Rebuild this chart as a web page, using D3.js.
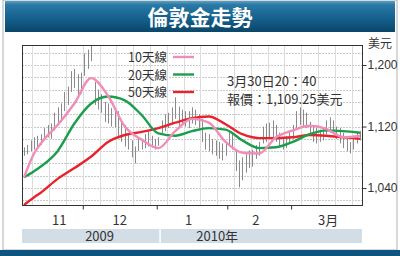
<!DOCTYPE html>
<html>
<head>
<meta charset="utf-8">
<script src="https://cdn.jsdelivr.net/npm/d3@7"></script>
<style>
  body { margin: 0; background: #fff; }
  svg { display: block; }
  text { font-family: "Liberation Sans", Arial, "Noto Sans CJK TC", sans-serif; fill: #333; }
  .cjk { font-family: "Noto Sans CJK TC", "Noto Sans CJK SC", sans-serif; }
</style>
</head>
<body>
<div class="render"></div>
<script>
// daily high / low, one per trading day (Nov 2009 - 30 Mar 2010)
var lows = [1082,1084,1088,1090,1093,1096,1102,1106,1104,1115,1122,1126,1140,1148,1165,1170,1160,1163,
  1186,1195,1205,1148,1142,1138,1126,1124,1120,1119,1108,1100,1094,1090,1080,1072,1088,1090,1092,1094,1093,1090,
  1095,1110,1114,1118,1125,1130,1120,1122,1120,1118,1124,1122,1115,1100,1090,1088,1084,1082,1078,1076,1082,
  1095,1090,1062,1041,1050,1060,1066,1068,1078,1082,1098,1100,1104,1103,1100,1094,1090,1092,1098,
  1104,1118,1122,1120,1118,1108,1100,1098,1100,1102,1110,1112,1110,1104,1098,1092,1088,1085,1090,1098,1102];
var highs = [1093,1096,1102,1106,1108,1110,1118,1122,1124,1138,1145,1150,1165,1172,1192,1195,1188,1190,
  1215,1220,1226,1178,1168,1162,1152,1150,1144,1142,1140,1128,1122,1110,1102,1094,1106,1104,1110,1114,1108,1104,
  1106,1128,1136,1138,1145,1158,1146,1142,1140,1140,1145,1142,1136,1130,1112,1110,1104,1102,1100,1098,1100,
  1115,1112,1090,1076,1080,1085,1089,1090,1096,1100,1120,1124,1125,1128,1122,1112,1106,1108,1114,
  1122,1140,1145,1142,1138,1126,1122,1118,1116,1118,1128,1132,1128,1120,1118,1112,1106,1100,1108,1112,1114];

// moving averages, sampled every 5 trading days
var maDays = [0,3,5,10,15,20,25,30,35,40,45,50,55,60,65,70,75,80,85,90,95,100];
var ma10 = [1054,1085,1098,1122,1150,1183,1160,1120,1103,1092,1114,1130,1125,1100,1086,1085,1106,1115,1121,1117,1106,1108];
var ma20 = [1054,1062,1068,1088,1124,1150,1159,1154,1135,1111,1108,1114,1118,1116,1102,1092,1093,1100,1110,1115,1114,1112];
var ma50 = [1018,1028,1034,1052,1066,1081,1100,1109,1113,1118,1125,1131,1133,1123,1110,1105,1105,1106,1109,1108,1106,1104];

var monthStarts = [17.5, 39.5, 60.5, 79.5];
var monthLabels = ['11', '12', '1', '2', '3月'];
var monthLabelDays = [10.5, 28.5, 49, 69, 90.5];
var yearLabels = ['2009', '2010年'];
var yearLabelDays = [22.5, 57.5];
var yearBreak = 40.5;
var yTicks = [1040, 1120, 1200];

var legendNames = ['10天線', '20天線', '50天線'];
var colors = ['#f28cb8', '#1a9e4c', '#e8232b'];

function draw() {
  var w = 400, h = 256;
  var left = 22, right = 362, top = 45, bottom = 205;

  var svg = d3.select('.render').append('svg').attr('width', w).attr('height', h);

  // title banner
  var grad = svg.append('defs').append('linearGradient').attr('id', 'ban')
    .attr('x1', 0).attr('y1', 0).attr('x2', 0).attr('y2', 1);
  grad.append('stop').attr('offset', '0%').attr('stop-color', '#5d9fc4');
  grad.append('stop').attr('offset', '12%').attr('stop-color', '#2a79a6');
  grad.append('stop').attr('offset', '60%').attr('stop-color', '#135e8b');
  grad.append('stop').attr('offset', '100%').attr('stop-color', '#0a4668');

  svg.append('rect').attr('x', 3).attr('y', 0).attr('width', 394).attr('height', 250)
    .attr('fill', 'none').attr('stroke', '#b0b0b0');
  svg.append('rect').attr('x', 5).attr('y', 1).attr('width', 390).attr('height', 31).attr('fill', 'url(#ban)');
  svg.append('text').attr('class', 'cjk').text('倫敦金走勢').attr('x', 200).attr('y', 25)
    .attr('text-anchor', 'middle').style('font-size', '21px').style('font-weight', 'bold').style('fill', '#fff');
  svg.append('rect').attr('x', 0).attr('y', 250).attr('width', w).attr('height', 6).attr('fill', '#0d5580');

  var x = d3.scaleLinear().domain([0, 100]).range([24, 360]);
  var y = d3.scaleLinear().domain([1018, 1226]).range([bottom, top]);

  // grid
  var g = svg.append('g');
  g.selectAll('line.hg').data(d3.range(1024, 1226, 16)).enter().append('line')
    .attr('x1', left).attr('x2', right)
    .attr('y1', function (d) { return Math.round(y(d)) + 0.5; })
    .attr('y2', function (d) { return Math.round(y(d)) + 0.5; })
    .attr('stroke', '#c8c8c8').attr('stroke-dasharray', '2,1');
  g.selectAll('line.vg').data(d3.range(2.5, 100, 5)).enter().append('line')
    .attr('y1', top).attr('y2', bottom)
    .attr('x1', function (d) { return Math.round(x(d)) + 0.5; })
    .attr('x2', function (d) { return Math.round(x(d)) + 0.5; })
    .attr('stroke', '#dcdcdc');

  // price bars
  svg.append('g').selectAll('line').data(lows).enter().append('line')
    .attr('x1', function (d, i) { return Math.round(x(i)) + 0.5; })
    .attr('x2', function (d, i) { return Math.round(x(i)) + 0.5; })
    .attr('y1', function (d) { return y(d); })
    .attr('y2', function (d, i) { return y(highs[i]); })
    .attr('stroke', '#8a8a8a').attr('stroke-width', 1);

  // moving averages
  var series = [ma50, ma20, ma10];
  var cols = [colors[2], colors[1], colors[0]];
  var line = d3.line().x(function (d, i) { return x(maDays[i]); }).y(function (d) { return y(d); })
    .curve(d3.curveMonotoneX);
  series.forEach(function (s, k) {
    svg.append('path').datum(s).attr('d', line).attr('fill', 'none')
      .attr('stroke', cols[k]).attr('stroke-width', 2.4);
  });

  // frame
  svg.append('rect').attr('x', left + 0.5).attr('y', top + 0.5).attr('width', right - left).attr('height', bottom - top)
    .attr('fill', 'none').attr('stroke', '#333');

  // y axis
  var yAxis = d3.axisRight(y).tickValues(yTicks).tickSize(4).tickFormat(d3.format(','));
  var ya = svg.append('g').attr('transform', 'translate(' + (right + 0.5) + ',0)').call(yAxis);
  ya.select('.domain').remove();
  ya.selectAll('line').attr('stroke', '#333');
  ya.selectAll('text').attr('x', 5).style('font-size', '12px').style('font-family', '"Liberation Sans Narrow", "Liberation Sans", sans-serif').style('fill', '#333');
  svg.append('text').attr('class', 'cjk').text('美元').attr('x', 368).attr('y', 48).style('font-size', '12px');

  // x axis: month boundaries
  var xAxis = d3.axisBottom(x).tickValues(monthStarts).tickSize(4).tickFormat('');
  var xa = svg.append('g').attr('transform', 'translate(0,' + (bottom + 0.5) + ')').call(xAxis);
  xa.select('.domain').remove();
  xa.selectAll('line').attr('stroke', '#333');
  svg.append('g').selectAll('text').data(monthLabels).enter().append('text').attr('class', 'cjk')
    .text(function (d) { return d; })
    .attr('x', function (d, i) { return x(monthLabelDays[i]); }).attr('y', 225)
    .attr('text-anchor', 'middle').style('font-size', '13px');

  // year band
  svg.append('rect').attr('x', left).attr('y', 229).attr('width', right - left).attr('height', 14).attr('fill', '#d3dde6');
  svg.append('line').attr('x1', x(yearBreak)).attr('x2', x(yearBreak)).attr('y1', 226).attr('y2', 246)
    .attr('stroke', '#fff').attr('stroke-width', 1.5);
  svg.append('g').selectAll('text').data(yearLabels).enter().append('text').attr('class', 'cjk')
    .text(function (d) { return d; })
    .attr('x', function (d, i) { return x(yearLabelDays[i]); }).attr('y', 241)
    .attr('text-anchor', 'middle').style('font-size', '13px');

  // legend
  var lg = svg.append('g').attr('transform', 'translate(128,57)');
  legendNames.forEach(function (n, i) {
    lg.append('text').attr('class', 'cjk').text(n).attr('x', 0).attr('y', i * 17.5 + 5).style('font-size', '12.5px');
    lg.append('line').attr('x1', 45).attr('x2', 66).attr('y1', i * 17.5).attr('y2', i * 17.5)
      .attr('stroke', colors[i]).attr('stroke-width', 2.4);
  });

  // quote
  svg.append('text').attr('class', 'cjk').text('3月30日20：40').attr('x', 227).attr('y', 86).style('font-size', '13px');
  svg.append('text').attr('class', 'cjk').text('報價：1,109.25美元').attr('x', 227).attr('y', 104).style('font-size', '13px');
}
draw();
</script>
</body>
</html>
